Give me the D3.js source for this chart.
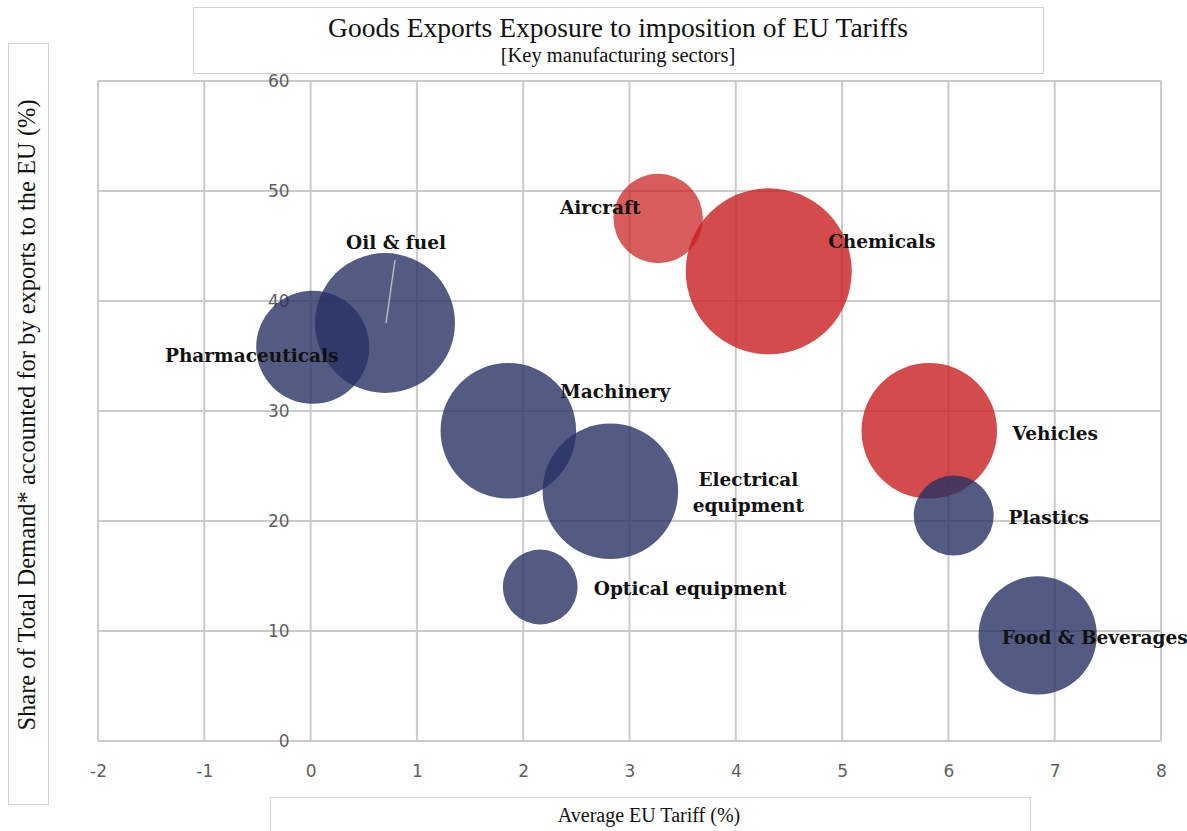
<!DOCTYPE html>
<html>
<head>
<meta charset="utf-8">
<script src="https://cdn.jsdelivr.net/npm/d3@7"></script>
<style>
  body { margin: 0; background: #fff; }
  svg { display: block; }
</style>
</head>
<body>
<div id="chart"></div>
<script>
// data
const sectors = ["Pharmaceuticals", "Oil & fuel", "Machinery", "Electrical equipment", "Optical equipment",
  "Aircraft", "Chemicals", "Vehicles", "Plastics", "Food & Beverages"];
const avgTariff = [0.02, 0.70, 1.86, 2.82, 2.16, 3.27, 4.31, 5.82, 6.05, 6.84];
const euShare = [35.8, 38.0, 28.2, 22.7, 14.0, 47.5, 42.7, 28.2, 20.5, 9.6];
const exportSize = [32, 49, 46, 46, 14, 20, 69, 46, 16, 35];
const highTariff = [false, false, false, false, false, true, true, true, false, false];
const xTicks = [-2, -1, 0, 1, 2, 3, 4, 5, 6, 7, 8];
const yTicks = [0, 10, 20, 30, 40, 50, 60];

// label placement relative to bubble centre (px)
const labelOffset = [[-61, 8], [11, -80], [107, -39], [138, 2], [150, 2],
  [-58, -11], [113, -30], [126, 3], [95, 2], [57, 2]];

const width = 1187, height = 831;
const serif = "'Liberation Serif', 'DejaVu Serif', serif";

const svg = d3.select('#chart').append('svg')
  .attr('width', width)
  .attr('height', height);

const x = d3.scaleLinear().domain([-2, 8]).range([98, 1161]);
const y = d3.scaleLinear().domain([0, 60]).range([741, 81]);
const r = d3.scaleSqrt().domain([0, 69]).range([0, 83]);

// title box
svg.append('rect')
  .attr('x', 193.5).attr('y', 7.5).attr('width', 850).attr('height', 66)
  .attr('fill', '#fff').attr('stroke', '#d4d4d4');
svg.append('text')
  .attr('x', 618).attr('y', 37)
  .attr('text-anchor', 'middle')
  .style('font-family', serif).style('font-size', '27.5px').style('fill', '#111')
  .text('Goods Exports Exposure to imposition of EU Tariffs');
svg.append('text')
  .attr('x', 618).attr('y', 62)
  .attr('text-anchor', 'middle')
  .style('font-family', serif).style('font-size', '20.5px').style('fill', '#111')
  .text('[Key manufacturing sectors]');

// y title box
svg.append('rect')
  .attr('x', 8.5).attr('y', 43.5).attr('width', 40).attr('height', 761)
  .attr('fill', '#fff').attr('stroke', '#d4d4d4');
svg.append('text')
  .attr('transform', 'translate(35, 415) rotate(-90)')
  .attr('text-anchor', 'middle')
  .style('font-family', serif).style('font-size', '24.5px').style('fill', '#111')
  .text('Share of Total Demand* accounted for by exports to the EU  (%)');

// x title box
svg.append('rect')
  .attr('x', 270.5).attr('y', 797.5).attr('width', 760).attr('height', 60)
  .attr('fill', '#fff').attr('stroke', '#d4d4d4');
svg.append('text')
  .attr('x', 649).attr('y', 822)
  .attr('text-anchor', 'middle')
  .style('font-family', serif).style('font-size', '20px').style('fill', '#111')
  .text('Average EU Tariff (%)');

// grid
const grid = svg.append('g');
grid.selectAll('line.v').data(xTicks).enter().append('line')
  .attr('x1', d => x(d)).attr('x2', d => x(d))
  .attr('y1', y(60)).attr('y2', y(0))
  .attr('stroke', '#cbcbcb').attr('stroke-width', 2);
grid.selectAll('line.h').data(yTicks).enter().append('line')
  .attr('x1', x(-2)).attr('x2', x(8))
  .attr('y1', d => y(d)).attr('y2', d => y(d))
  .attr('stroke', '#cbcbcb').attr('stroke-width', 2);

// axes (y axis crosses at x = 0)
const yAxis = svg.append('g')
  .attr('transform', `translate(${x(0)},0)`)
  .call(d3.axisLeft(y).tickValues(yTicks).tickSize(0).tickPadding(21).tickFormat(d => String(d)));
const xAxis = svg.append('g')
  .attr('transform', `translate(0,${y(0)})`)
  .call(d3.axisBottom(x).tickValues(xTicks).tickSize(0).tickPadding(24).tickFormat(d => String(d)));
[xAxis, yAxis].forEach(a => {
  a.select('.domain').remove();
  a.selectAll('text')
    .style('font-family', "'DejaVu Sans', sans-serif")
    .style('font-size', '17px')
    .style('fill', '#5f5f5f');
});

const rows = sectors.map((s, i) => ({
  name: s, tariff: avgTariff[i], share: euShare[i], size: exportSize[i],
  red: highTariff[i], off: labelOffset[i]
}));

// bubbles
svg.append('g').selectAll('circle')
  .data(rows).enter().append('circle')
  .attr('cx', d => x(d.tariff))
  .attr('cy', d => y(d.share))
  .attr('r', d => r(d.size))
  .attr('fill', d => d.red ? '#c81e1e' : '#283264')
  .attr('fill-opacity', d => d.name === 'Aircraft' ? 0.72 : 0.8);

// leader line for Oil & fuel
const oil = rows[1];
svg.append('line')
  .attr('x1', x(oil.tariff) + 10).attr('y1', y(oil.share) - 63)
  .attr('x2', x(oil.tariff) + 1).attr('y2', y(oil.share))
  .attr('stroke', '#b8b8b8').attr('stroke-width', 1.5);

// labels
const labels = svg.append('g').selectAll('text')
  .data(rows).enter().append('text')
  .attr('x', d => x(d.tariff) + d.off[0])
  .attr('y', d => y(d.share) + d.off[1])
  .attr('text-anchor', 'middle')
  .style('font-family', "'DejaVu Serif', serif")
  .style('font-weight', 'bold')
  .style('font-size', '18.5px')
  .style('fill', '#111');

labels.each(function (d) {
  const t = d3.select(this);
  const parts = d.name === 'Electrical equipment' ? ['Electrical', 'equipment'] : [d.name];
  parts.forEach((p, j) => {
    t.append('tspan')
      .attr('x', x(d.tariff) + d.off[0])
      .attr('dy', j === 0 ? (parts.length > 1 ? '-0.4em' : '0.35em') : '1.4em')
      .text(p);
  });
});
</script>
</body>
</html>
